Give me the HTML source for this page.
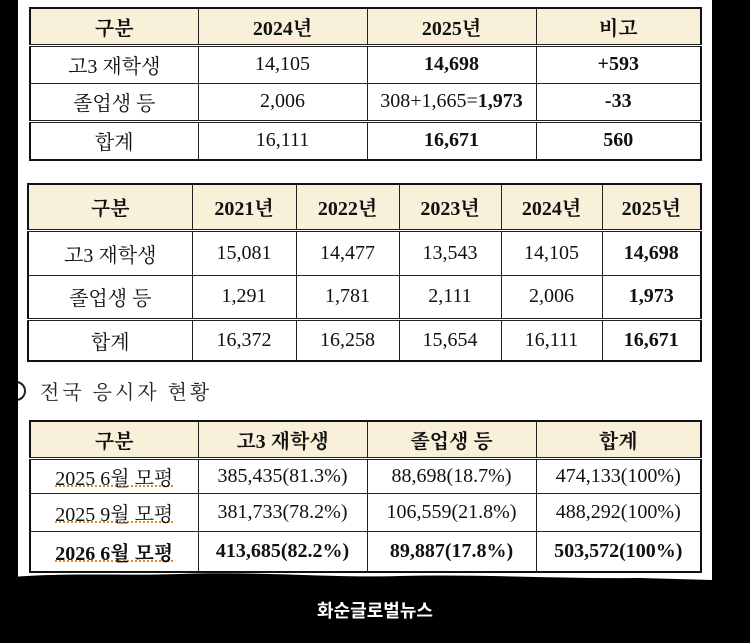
<!DOCTYPE html>
<html><head><meta charset="utf-8"><style>
body{margin:0;width:750px;height:643px;background:#000;position:relative;overflow:hidden;font-family:"Liberation Serif","Noto Serif CJK SC",serif;}
#paper{position:absolute;left:18px;top:0;width:694px;height:580px;background:#fff;overflow:hidden;}
table{position:absolute;border-collapse:collapse;border:2px solid #111;table-layout:fixed;}
td,th{border:1px solid #222;text-align:center;font-size:20px;color:#111;padding:0;font-weight:normal;}
th{background:#f8f0d9;font-weight:bold;}
.b{font-weight:bold;}
tr.dbl td{border-top:3px double #222;}
tr.hd th{border-bottom:3px double #222;}
#sec{position:absolute;left:40px;top:376px;font-size:20px;color:#222;letter-spacing:3px;}
#circ{position:absolute;left:-12px;top:381px;width:16px;height:16px;border:2px solid #222;border-radius:50%;}
#footer{position:absolute;left:0;width:750px;top:597px;text-align:center;color:#fff;font-family:"Liberation Sans","Noto Sans CJK KR",sans-serif;font-weight:bold;font-size:18px;}
.u{text-decoration:underline dotted #e08a30;}
</style></head><body>
<div id="paper"><div id="circ"></div></div>
<svg style="position:absolute;left:0;top:570px" width="750" height="20"><path d="M0,20 L0,8 C60,2 120,6 180,4 C260,1 330,8 400,6 C480,4 560,9 640,8 L712,10 L750,10 L750,20 Z" fill="#000"/></svg>

<table style="left:29px;top:7px;width:673px;height:154px">
<colgroup><col style="width:168px"><col style="width:169px"><col style="width:169px"><col></colgroup>
<tr class="hd" style="height:37px"><th>구분</th><th>2024년</th><th>2025년</th><th>비고</th></tr>
<tr style="height:38px"><td>고3 재학생</td><td>14,105</td><td class="b">14,698</td><td class="b">+593</td></tr>
<tr style="height:38px"><td>졸업생 등</td><td>2,006</td><td>308+1,665=<b>1,973</b></td><td class="b">-33</td></tr>
<tr class="dbl"><td>합계</td><td>16,111</td><td class="b">16,671</td><td class="b">560</td></tr>
</table>

<table style="left:27px;top:183px;width:675px;height:179px">
<colgroup><col style="width:164px"><col style="width:104px"><col style="width:103px"><col style="width:102px"><col style="width:101px"><col></colgroup>
<tr class="hd" style="height:46px"><th>구분</th><th>2021년</th><th>2022년</th><th>2023년</th><th>2024년</th><th>2025년</th></tr>
<tr style="height:45px"><td>고3 재학생</td><td>15,081</td><td>14,477</td><td>13,543</td><td>14,105</td><td class="b">14,698</td></tr>
<tr style="height:44px"><td>졸업생 등</td><td>1,291</td><td>1,781</td><td>2,111</td><td>2,006</td><td class="b">1,973</td></tr>
<tr class="dbl"><td>합계</td><td>16,372</td><td>16,258</td><td>15,654</td><td>16,111</td><td class="b">16,671</td></tr>
</table>

<div id="sec">전국 응시자 현황</div>

<table style="left:29px;top:420px;width:673px;height:153px">
<colgroup><col style="width:168px"><col style="width:169px"><col style="width:169px"><col></colgroup>
<tr class="hd" style="height:37px"><th>구분</th><th>고3 재학생</th><th>졸업생 등</th><th>합계</th></tr>
<tr style="height:35px"><td><span class="u">2025 6월 모평</span></td><td>385,435(81.3%)</td><td>88,698(18.7%)</td><td>474,133(100%)</td></tr>
<tr style="height:38px"><td><span class="u">2025 9월 모평</span></td><td>381,733(78.2%)</td><td>106,559(21.8%)</td><td>488,292(100%)</td></tr>
<tr><td class="b"><span class="u">2026 6월 모평</span></td><td class="b">413,685(82.2%)</td><td class="b">89,887(17.8%)</td><td class="b">503,572(100%)</td></tr>
</table>

<div id="footer">화순글로벌뉴스</div>
</body></html>
